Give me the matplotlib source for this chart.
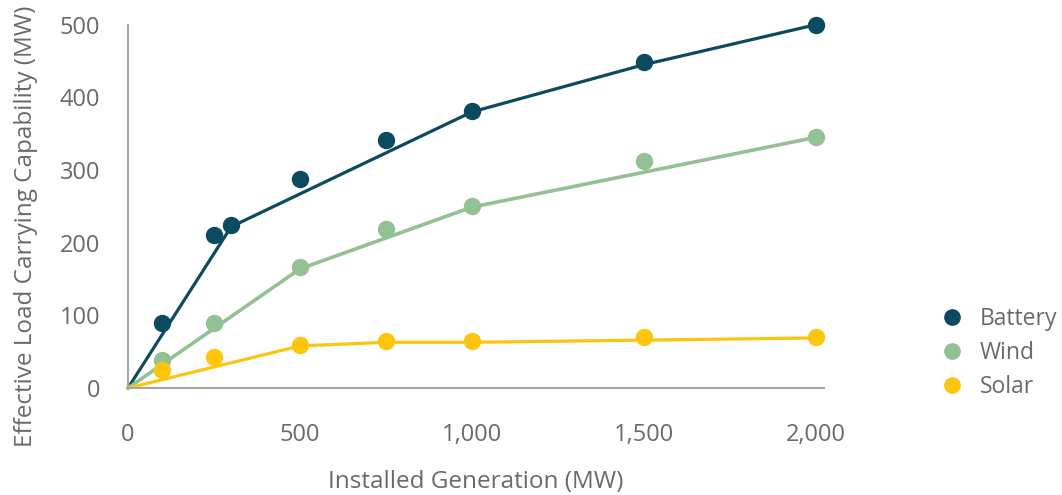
import matplotlib.pyplot as plt
from matplotlib.ticker import FuncFormatter
from matplotlib.lines import Line2D

plt.rcParams['font.family'] = ['Open Sans', 'DejaVu Sans']

# measured points
mw = [100, 250, 300, 500, 750, 1000, 1500, 2000]
battery = [89, 211, 224, 288, 342, 381, 449, 499]
mw_ws = [100, 250, 500, 750, 1000, 1500, 2000]
wind = [38, 90, 166, 219, 251, 313, 346]
solar = [25, 43, 59, 65, 65, 70, 70]

# fitted piecewise lines
battery_fit_x = [0, 300, 1000, 1500, 2000]
battery_fit_y = [0, 222, 380, 445, 500]
wind_fit_x = [0, 500, 1000, 2000]
wind_fit_y = [0, 164, 249, 345]
solar_fit_x = [0, 500, 750, 1000, 2000]
solar_fit_y = [0, 58, 63, 63, 69]

c_bat = "#0b4a5f"
c_wind = "#93c193"
c_sol = "#fec50f"
grey = "#6a6a6a"

fig = plt.figure(figsize=(10.62, 4.95), dpi=100)
ax = fig.add_axes([0.1205, 0.216, 0.655, 0.734])

ax.plot(battery_fit_x, battery_fit_y, color=c_bat, lw=2.3, zorder=2, clip_on=False)
ax.plot(wind_fit_x, wind_fit_y, color=c_wind, lw=2.6, zorder=2, clip_on=False)
ax.plot(solar_fit_x, solar_fit_y, color=c_sol, lw=2.3, zorder=2, clip_on=False)

ax.plot(mw, battery, "o", color=c_bat, ms=11.5, zorder=3, clip_on=False)
ax.plot(mw_ws, wind, "o", color=c_wind, ms=11.5, zorder=3, clip_on=False)
ax.plot(mw_ws, solar, "o", color=c_sol, ms=11.5, zorder=3, clip_on=False)

ax.set_xlim(0, 2023)
ax.set_ylim(0, 500)
ax.set_xticks([0, 500, 1000, 1500, 2000])
ax.set_yticks([0, 100, 200, 300, 400, 500])
ax.xaxis.set_major_formatter(FuncFormatter(lambda v, p: f"{int(v):,}"))
ax.tick_params(length=0, labelsize=17, labelcolor=grey)
ax.tick_params(axis="y", pad=20)
ax.tick_params(axis="x", pad=25)

for s in ["top", "right"]:
    ax.spines[s].set_visible(False)
for s in ["left", "bottom"]:
    ax.spines[s].set_color("#a6a6a6")
    ax.spines[s].set_linewidth(1.5)

ax.set_xlabel("Installed Generation (MW)", fontsize=17.5, color=grey)
ax.set_ylabel("Effective Load Carrying Capability (MW)", fontsize=17.5, color=grey)
ax.xaxis.set_label_coords(0.5, -0.225)
ax.yaxis.set_label_coords(-0.129, 0.445)

handles = [Line2D([], [], ls="none", marker="o", ms=11, color=c) for c in [c_bat, c_wind, c_sol]]
leg = fig.legend(handles, ["Battery", "Wind", "Solar"], loc="center left",
                 bbox_to_anchor=(0.864, 0.287), frameon=False, fontsize=16.5,
                 handletextpad=0.62, labelspacing=0.42, handlelength=1.2)
for t in leg.get_texts():
    t.set_color(grey)

fig.savefig("out.png", dpi=100)
